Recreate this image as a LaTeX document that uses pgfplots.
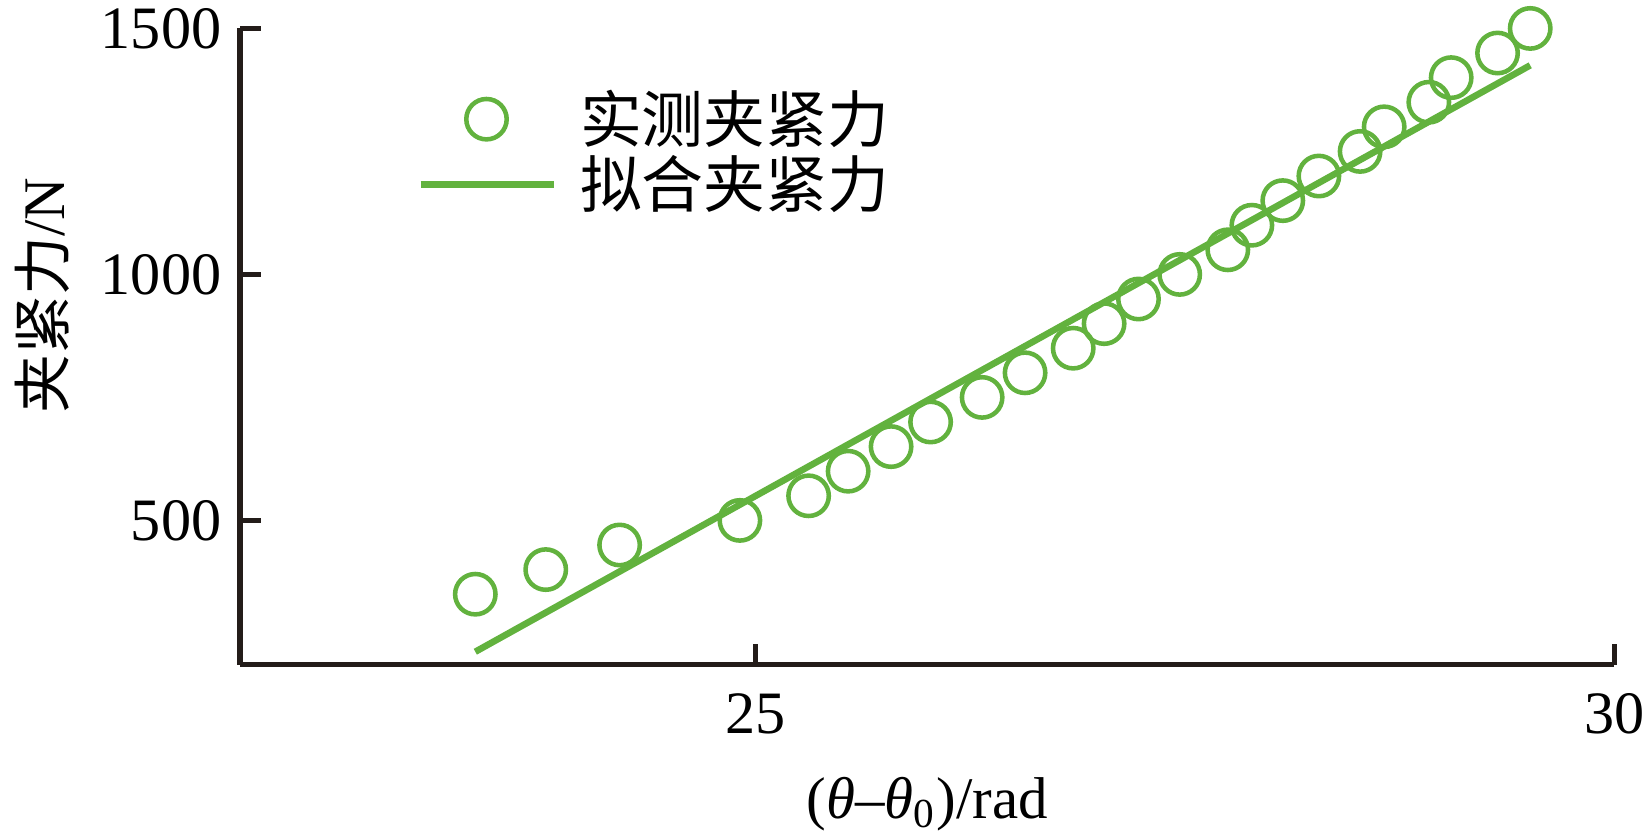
\documentclass[border=0pt]{standalone}
\usepackage{fontspec}
\setmainfont{Liberation Serif}
\newfontfamily\cjk{Noto Sans CJK SC}
\usepackage{pgfplots}
\pgfplotsset{compat=1.18}
\usetikzlibrary{calc}
\definecolor{grn}{RGB}{98,178,62}
\definecolor{axc}{RGB}{35,28,25}
\pgfplotsset{
  mklegend/.style={legend image code/.code={\draw[##1] plot coordinates {(16pt,0pt)};}},
  lnlegend/.style={legend image code/.code={\draw[##1] (0pt,0pt) -- (32.4pt,0pt);}},
}
\begin{document}
\begin{tikzpicture}
\begin{axis}[
  name=ax,
  scale only axis,
  width=333.4pt, height=154.3pt,
  xmin=22, xmax=30, ymin=207, ymax=1500,
  axis lines*=left,
  axis line style={axc, line width=1.3pt, -},
  xtick={25,30}, ytick={500,1000,1500},
  tick style={axc, line width=1.2pt},
  tick align=inside,
  major tick length=5pt,
  /pgf/number format/assume math mode=true,
  /pgf/number format/1000 sep={},
  tick label style={font=\fontsize{14.6}{16}\selectfont},
  xticklabel style={yshift=-3.5pt},
  yticklabel style={xshift=-1pt},
  xlabel={(\textit{θ}–\textit{θ}\textsubscript{0})/rad},
  ylabel={{\cjk 夹紧力}/N},
  label style={font=\fontsize{14.3}{16}\selectfont},
  xlabel style={at={(axis description cs:0.5,-0.22)}, anchor=center},
  ylabel style={at={(axis description cs:-0.144,0.58)}, anchor=center},
  clip=false,
  legend style={draw=none, fill=none, inner sep=0pt, outer sep=0pt,
    at={(axis description cs:0.129,0.806)}, anchor=west,
    nodes={inner sep=0pt, font=\cjk\fontsize{15}{16}\selectfont}, column sep=5.5pt, row sep=1.7pt},
  legend cell align=left,
]
\addplot[only marks, mark=o, mark size=4.9pt, grn, line width=1.1pt, mklegend]
 coordinates {
(23.37,350)(23.78,400)(24.21,450)(24.91,500)(25.31,550)(25.54,600)(25.79,650)(26.02,700)
(26.32,750)(26.57,800)(26.85,850)(27.03,900)(27.23,950)(27.47,1000)(27.75,1050)(27.89,1100)
(28.07,1150)(28.28,1200)(28.52,1250)(28.66,1300)(28.92,1350)(29.05,1400)(29.32,1450)(29.51,1500)
};
\addlegendentry{实测夹紧力}
\addplot[grn, line width=1.6pt, no marks, lnlegend]
 coordinates {(23.37,233)(29.51,1425)};
\addlegendentry{拟合夹紧力}
\end{axis}
\pgfresetboundingbox
\path ($(ax.south west)+(-58.2pt,-41.3pt)$) rectangle ($(ax.north east)+(8.4pt,6.9pt)$);
\end{tikzpicture}
\end{document}
